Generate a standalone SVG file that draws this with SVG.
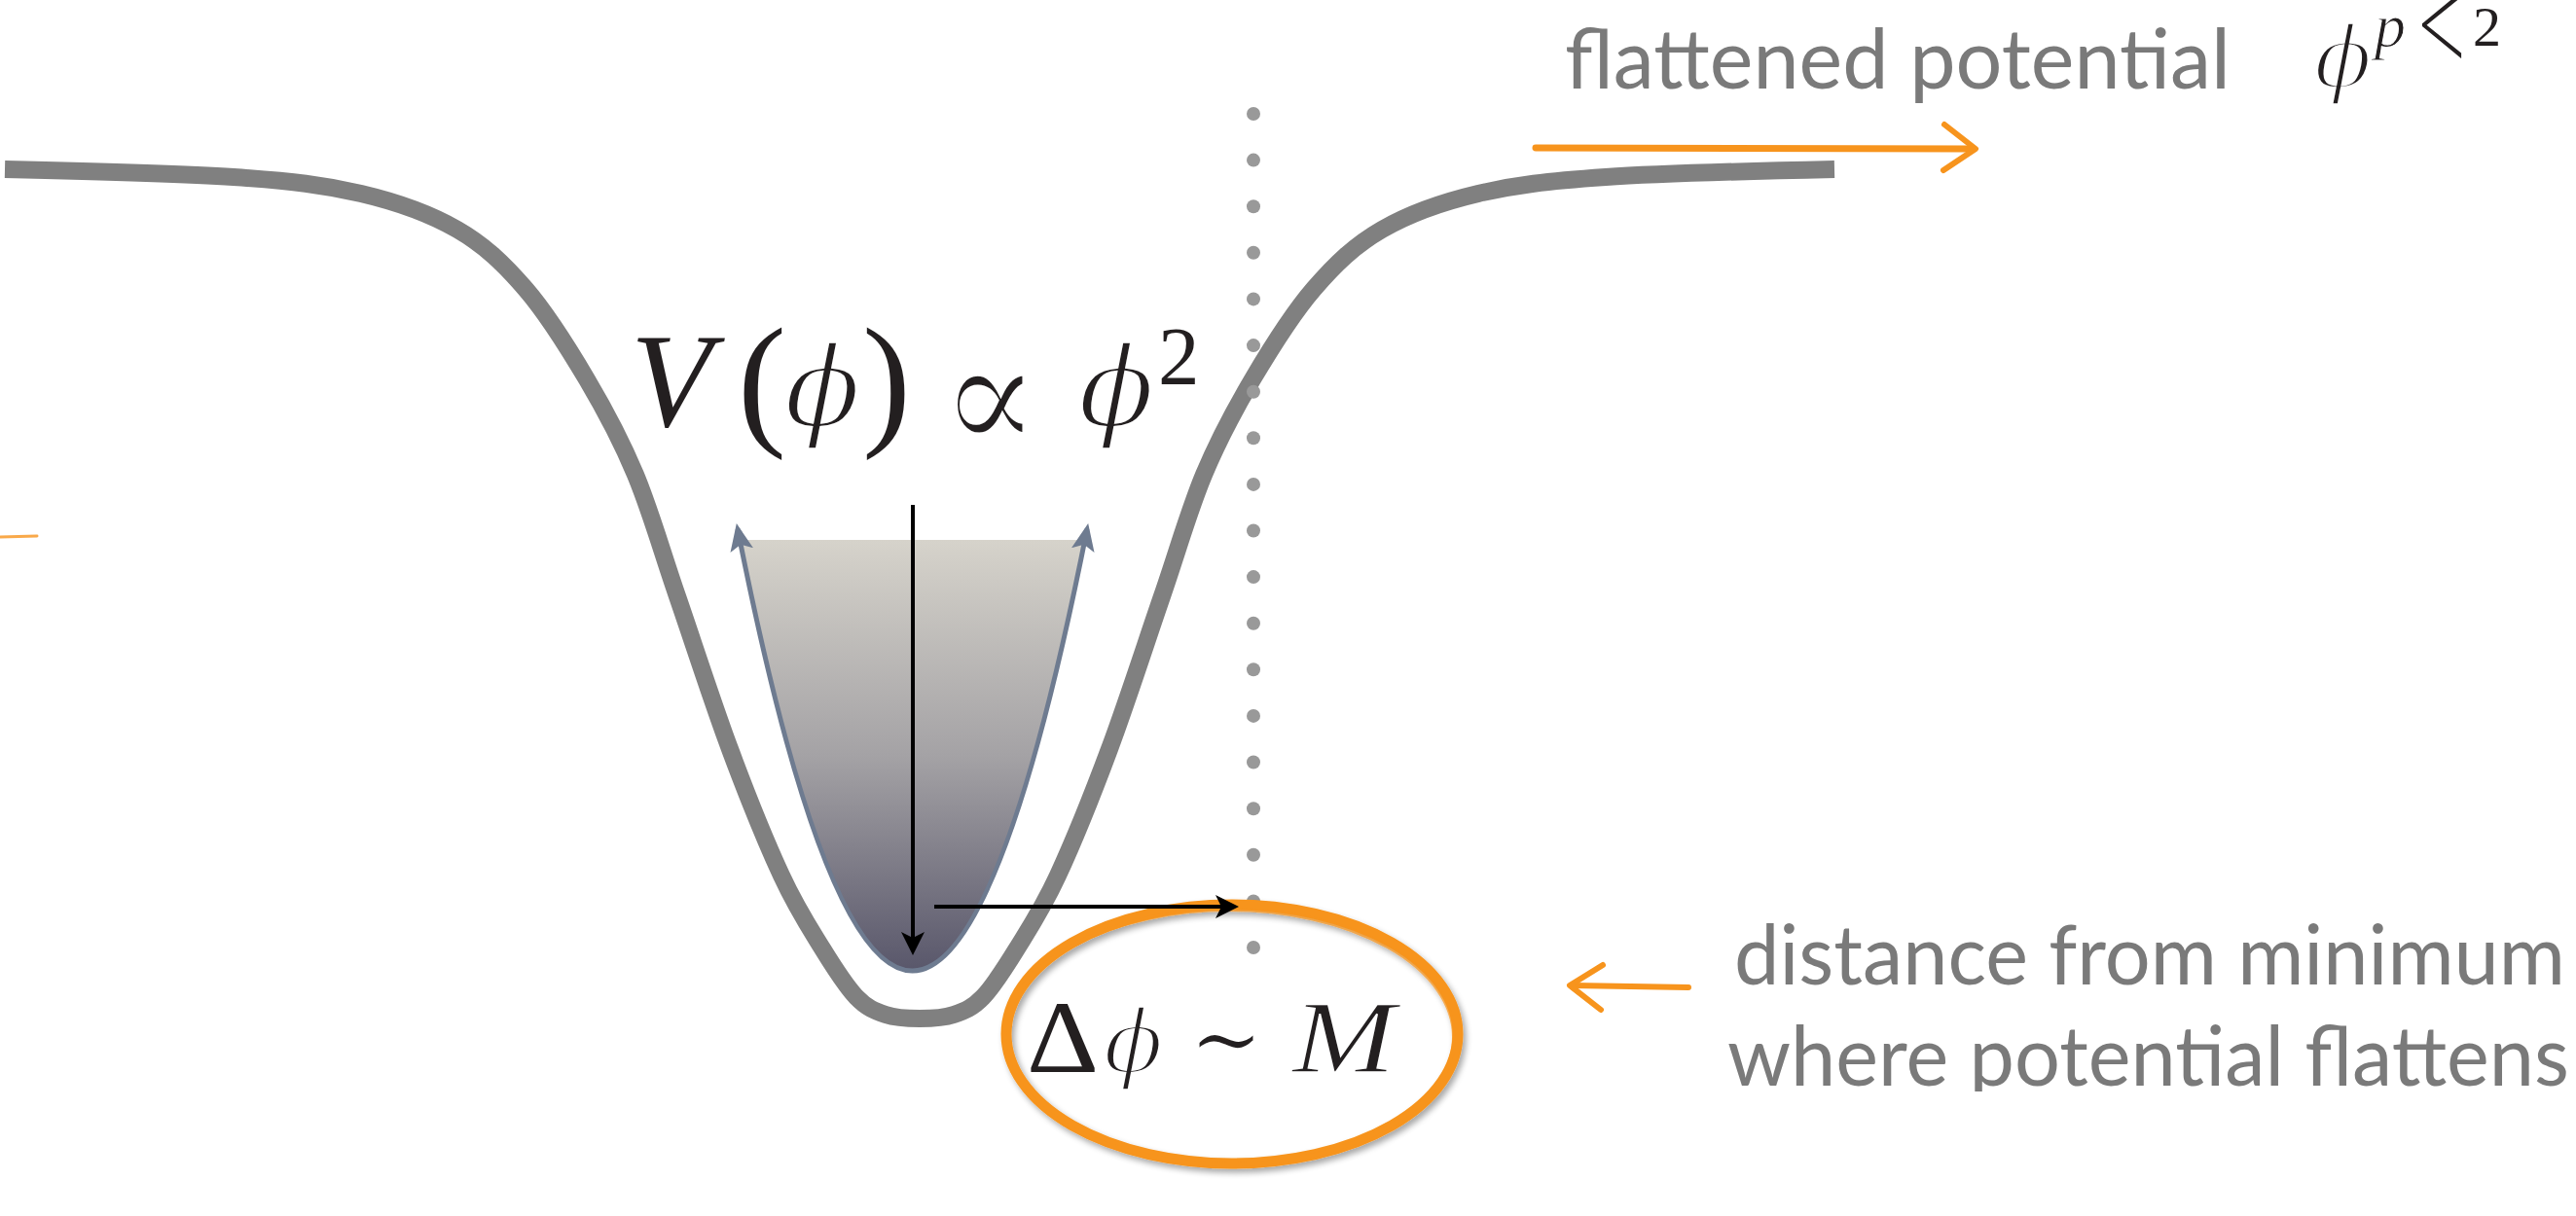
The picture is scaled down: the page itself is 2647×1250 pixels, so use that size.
<svg xmlns="http://www.w3.org/2000/svg" width="2647" height="1250" viewBox="0 0 2647 1250">
<style>
.curve{fill:none;stroke:#808080;stroke-width:18;stroke-linecap:butt;stroke-linejoin:round}
.dot{fill:#999999}
.lbl{font-family:Lato,"Liberation Sans",sans-serif;fill:#7a7a7a;font-size:86px}
.m{font-family:"Liberation Serif",serif;fill:#231f20}
.mi{font-family:"Liberation Serif",serif;font-style:italic;fill:#231f20}
.phi{font-family:"DejaVu Serif",serif;font-style:italic;fill:#231f20;stroke:#fff;stroke-width:3.5}
.sym{font-family:"DejaVu Serif",serif;fill:#231f20}
.thin{stroke:#fff;stroke-width:4}
.orange{fill:none;stroke:#f7941d;stroke-linecap:round;stroke-linejoin:round}
.blk{fill:none;stroke:#000;stroke-width:4}
</style>
<defs>
<linearGradient id="fun" x1="0" y1="555" x2="0" y2="1000" gradientUnits="userSpaceOnUse">
<stop offset="0" stop-color="#d6d3cb"/>
<stop offset="0.5" stop-color="#a4a2a5"/>
<stop offset="1" stop-color="#58566a"/>
</linearGradient>
<clipPath id="funclip"><rect x="700" y="555" width="500" height="500"/></clipPath>
<clipPath id="txtclip"><rect x="1700" y="1020" width="947" height="102"/></clipPath>
<marker id="ah" markerUnits="userSpaceOnUse" viewBox="0 0 24 24" markerWidth="24" markerHeight="24" refX="18" refY="12" orient="auto"><path d="M0,0 L24,12 L0,24 L6,12 Z" fill="#000"/></marker>
<marker id="sh" markerUnits="userSpaceOnUse" viewBox="0 0 28 24" markerWidth="28" markerHeight="24" refX="22" refY="12" orient="auto-start-reverse"><path d="M0,0 L28,12 L0,24 L6,12 Z" fill="#6e7b90"/></marker>
<filter id="shadow" x="-10%" y="-10%" width="120%" height="120%"><feGaussianBlur in="SourceAlpha" stdDeviation="3"/><feOffset dx="3" dy="4" result="b"/><feComponentTransfer><feFuncA type="linear" slope="0.35"/></feComponentTransfer><feMerge><feMergeNode/><feMergeNode in="SourceGraphic"/></feMerge></filter>
<path id="half" d="M945,1047 C956.7,1047 969.2,1046.7 980,1043 C990.8,1039.3 999.2,1036.3 1010,1025 C1020.8,1013.7 1032.2,995.8 1045,975 C1057.8,954.2 1071.2,934.2 1087,900 C1102.8,865.8 1122.2,817.8 1140,770 C1157.8,722.2 1177.8,660 1194,613 C1210.2,566 1221.5,525.2 1237,488 C1252.5,450.8 1268.2,421.8 1287,390 C1305.8,358.2 1327.8,322.7 1350,297 C1372.2,271.3 1391.8,252.3 1420,236 C1448.2,219.7 1480.7,208 1519,199 C1557.3,190 1589,186.2 1650,182 C1711,177.8 1806.7,175.7 1885,174"/>
</defs>
<rect width="2647" height="1250" fill="#fff"/>

<g id="potential-curve">
<use href="#half" class="curve"/>
<use href="#half" class="curve" transform="matrix(-1 0 0 1 1890 0)"/>
</g>

<g id="funnel">
<path d="M758,544 Q937.5,1452 1117,544 Z" fill="url(#fun)" clip-path="url(#funclip)"/>
<path d="M758,544 Q937.5,1452 1117,544" fill="none" stroke="#6e7b90" stroke-width="5" marker-start="url(#sh)" marker-end="url(#sh)"/>
</g>

<g id="dotted-line">
<circle class="dot" cx="1288" cy="117" r="7"/><circle class="dot" cx="1288" cy="164.6" r="7"/><circle class="dot" cx="1288" cy="212.2" r="7"/><circle class="dot" cx="1288" cy="259.8" r="7"/><circle class="dot" cx="1288" cy="307.4" r="7"/><circle class="dot" cx="1288" cy="355.1" r="7"/><circle class="dot" cx="1288" cy="402.7" r="7"/><circle class="dot" cx="1288" cy="450.3" r="7"/><circle class="dot" cx="1288" cy="497.9" r="7"/><circle class="dot" cx="1288" cy="545.5" r="7"/><circle class="dot" cx="1288" cy="593.1" r="7"/><circle class="dot" cx="1288" cy="640.7" r="7"/><circle class="dot" cx="1288" cy="688.3" r="7"/><circle class="dot" cx="1288" cy="735.9" r="7"/><circle class="dot" cx="1288" cy="783.5" r="7"/><circle class="dot" cx="1288" cy="831.2" r="7"/><circle class="dot" cx="1288" cy="878.8" r="7"/><circle class="dot" cx="1288" cy="926.4" r="7"/><circle class="dot" cx="1288" cy="974" r="7"/>
</g>

<g id="formula-main">
<text class="mi" x="648" y="438" font-size="137">V</text>
<text class="m" x="758" y="441" font-size="150">(</text>
<text class="phi" x="806" y="438" font-size="115">ϕ</text>
<text class="m" x="886" y="441" font-size="150">)</text>
<text class="sym thin" x="966" y="464" font-size="162" textLength="103" lengthAdjust="spacingAndGlyphs">∝</text>
<text class="phi" x="1108" y="438" font-size="115">ϕ</text>
<text class="m" x="1190" y="395" font-size="85">2</text>
</g>

<g id="delta-label">
<g filter="url(#shadow)">
<ellipse cx="1266" cy="1063" rx="232" ry="133" class="orange" stroke-width="11"/>
<ellipse cx="1263" cy="1066" rx="231" ry="131" class="orange" stroke-width="4" opacity="0.7"/>
</g>
<text class="m" x="1055" y="1102" font-size="106" textLength="74" lengthAdjust="spacingAndGlyphs">Δ</text>
<text class="phi" x="1134" y="1102" font-size="90">ϕ</text>
<text class="sym thin" x="1222" y="1102" font-size="100" textLength="76" lengthAdjust="spacingAndGlyphs" style="stroke-width:2">∼</text>
<text class="mi" x="1328" y="1102" font-size="105" textLength="106" lengthAdjust="spacingAndGlyphs" style="stroke:#fff;stroke-width:1.5">M</text>
</g>

<g id="label-flattened">
<text class="lbl" x="1608" y="91" textLength="684" lengthAdjust="spacingAndGlyphs">flattened potential</text>
<text class="phi" x="2378" y="90" font-size="87">ϕ</text>
<text class="mi" x="2440" y="48" font-size="64" style="stroke:#fff;stroke-width:1">p</text>
<text class="m" x="2484" y="75" font-size="148" textLength="50" lengthAdjust="spacingAndGlyphs" style="stroke:#fff;stroke-width:1.5">&lt;</text>
<text class="m" x="2541" y="47" font-size="58">2</text>
</g>

<g id="label-distance">
<text class="lbl" x="1782" y="1012" textLength="854" lengthAdjust="spacingAndGlyphs">distance from minimum</text>
<text class="lbl" x="1775" y="1116" textLength="865" lengthAdjust="spacingAndGlyphs" clip-path="url(#txtclip)">where potential flattens</text>
</g>

<g id="connectors">
<line class="blk" x1="938" y1="519" x2="938" y2="976" marker-end="url(#ah)"/>
<line class="blk" x1="960" y1="932" x2="1267" y2="932" marker-end="url(#ah)"/>
<path class="orange" stroke-width="7" d="M1578,152 L2026,153"/>
<path class="orange" stroke-width="6" d="M1998,128 L2030,153 L1997,175"/>
<path class="orange" stroke-width="6" d="M1735,1015 L1616,1013"/>
<path class="orange" stroke-width="6" d="M1647,992 L1613,1013 L1645,1038"/>
<path class="orange" stroke-width="3" opacity="0.8" d="M0,552 L38,551"/>
</g>
</svg>
